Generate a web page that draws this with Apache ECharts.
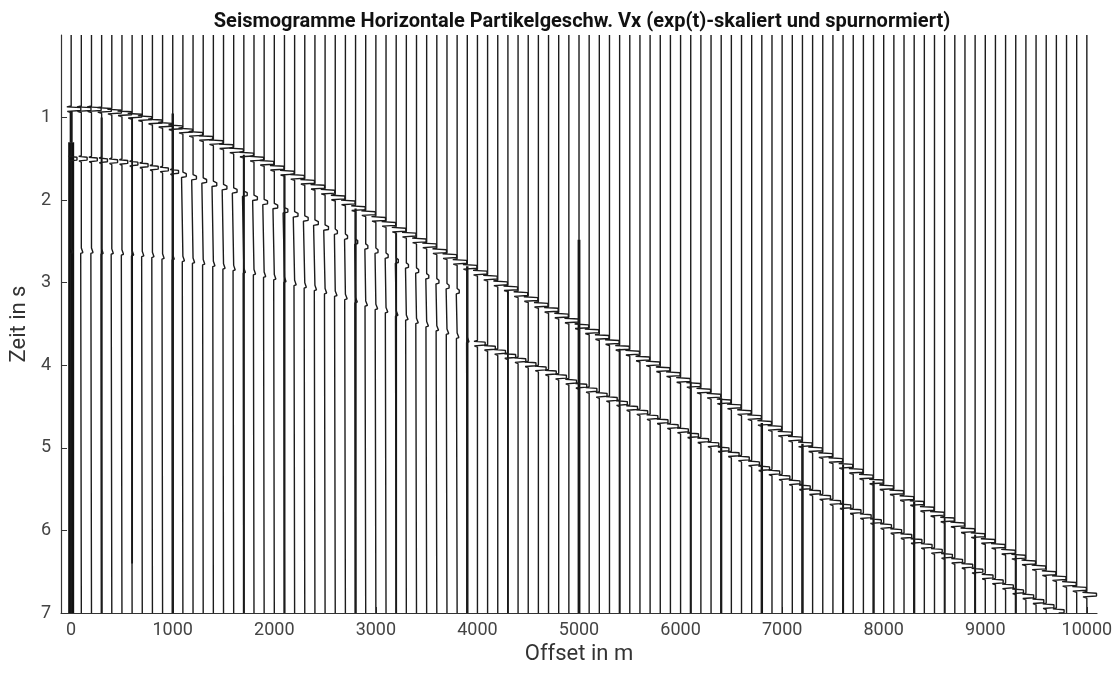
<!DOCTYPE html>
<html>
<head>
<meta charset="utf-8">
<title>Seismogramme Vx</title>
<script src="https://cdn.jsdelivr.net/npm/echarts@6/dist/echarts.min.js"></script>
<style>
  html, body { margin: 0; padding: 0; background: #fff; }
  #chart { width: 1120px; height: 673px; }
</style>
</head>
<body>
<div id="chart"></div>
<script>
// Receiver offsets (m), one trace each
const OFFSETS = [
  0, 100, 200, 300, 400, 500, 600, 700, 800, 900,
  1000, 1100, 1200, 1300, 1400, 1500, 1600, 1700, 1800, 1900,
  2000, 2100, 2200, 2300, 2400, 2500, 2600, 2700, 2800, 2900,
  3000, 3100, 3200, 3300, 3400, 3500, 3600, 3700, 3800, 3900,
  4000, 4100, 4200, 4300, 4400, 4500, 4600, 4700, 4800, 4900,
  5000, 5100, 5200, 5300, 5400, 5500, 5600, 5700, 5800, 5900,
  6000, 6100, 6200, 6300, 6400, 6500, 6600, 6700, 6800, 6900,
  7000, 7100, 7200, 7300, 7400, 7500, 7600, 7700, 7800, 7900,
  8000, 8100, 8200, 8300, 8400, 8500, 8600, 8700, 8800, 8900,
  9000, 9100, 9200, 9300, 9400, 9500, 9600, 9700, 9800, 9900,
  10000
];

// Axis tick labels
const X_TICKS = [0, 1000, 2000, 3000, 4000, 5000, 6000, 7000, 8000, 9000, 10000];
const Y_TICKS = [1, 2, 3, 4, 5, 6, 7];

// First (strongest) arrival time per trace (s)
const T_FIRST = [
  0.88, 0.88, 0.88, 0.89, 0.91, 0.93, 0.96, 0.99, 1.03, 1.07,
  1.10, 1.14, 1.18, 1.23, 1.28, 1.33, 1.38, 1.43, 1.48, 1.53,
  1.59, 1.65, 1.70, 1.76, 1.82, 1.88, 1.95, 2.01, 2.08, 2.14,
  2.21, 2.27, 2.34, 2.40, 2.47, 2.53, 2.60, 2.66, 2.73, 2.79,
  2.86, 2.92, 2.99, 3.05, 3.12, 3.18, 3.25, 3.31, 3.38, 3.44,
  3.51, 3.57, 3.64, 3.70, 3.77, 3.83, 3.90, 3.96, 4.03, 4.09,
  4.16, 4.22, 4.29, 4.35, 4.42, 4.48, 4.55, 4.61, 4.68, 4.74,
  4.81, 4.87, 4.94, 5.00, 5.07, 5.13, 5.20, 5.26, 5.33, 5.39,
  5.46, 5.52, 5.59, 5.65, 5.72, 5.78, 5.85, 5.91, 5.98, 6.04,
  6.11, 6.17, 6.24, 6.30, 6.37, 6.43, 6.50, 6.56, 6.63, 6.69,
  6.76
];

// Shallow secondary event (s), visible on the near traces only
const T_SECOND = [
  1.48, 1.48, 1.49, 1.50, 1.51, 1.52, 1.54, 1.56, 1.59, 1.61,
  1.64, 1.68, 1.71, 1.75, 1.79, 1.83, 1.87, 1.91, 1.96, 2.01,
  2.06, 2.11, 2.16, 2.21, 2.26, 2.32, 2.37, 2.43, 2.49, 2.55,
  2.60, 2.66, 2.72, 2.78, 2.84, 2.91, 2.97, 3.03, 3.09
];

// Deeper reflection (s); runs out of the 7 s window after 9700 m
const T_REFLECTION = [
  2.60, 2.60, 2.60, 2.61, 2.61, 2.62, 2.63, 2.64, 2.65, 2.67,
  2.68, 2.70, 2.72, 2.74, 2.76, 2.79, 2.81, 2.84, 2.86, 2.89,
  2.92, 2.95, 2.99, 3.02, 3.05, 3.09, 3.12, 3.16, 3.20, 3.24,
  3.28, 3.32, 3.36, 3.41, 3.45, 3.49, 3.54, 3.58, 3.63, 3.68,
  3.72, 3.77, 3.82, 3.87, 3.92, 3.97, 4.02, 4.07, 4.12, 4.18,
  4.23, 4.28, 4.34, 4.39, 4.44, 4.50, 4.55, 4.61, 4.66, 4.72,
  4.77, 4.83, 4.89, 4.94, 5.00, 5.06, 5.11, 5.17, 5.23, 5.28,
  5.34, 5.40, 5.46, 5.52, 5.58, 5.64, 5.69, 5.75, 5.81, 5.87,
  5.93, 5.99, 6.05, 6.11, 6.17, 6.23, 6.29, 6.35, 6.41, 6.47,
  6.54, 6.60, 6.66, 6.72, 6.78, 6.84, 6.90, 6.96
];

// Relative event amplitudes per offset range: [from m, to m, amplitude]
const AMP_FIRST = [[0, 10000, 1.0]];
const AMP_SECOND = [[0, 1000, 0.6], [1100, 2500, 0.35], [2600, 3800, 0.22]];
const AMP_REFLECTION = [[0, 2500, 0.16], [2600, 3900, 0.18], [4000, 10000, 0.8]];

// Noisy traces drawn heavier: [offset m, from s, to s, line width px]
const NOISY_TRACES = [
  [0, 1.30, 7.00, 6], [0, 0.92, 1.30, 3],
  [300, 1.00, 7.00, 2], [600, 1.00, 6.40, 1.8],
  [1000, 0.95, 7.00, 2.4], [1700, 1.45, 7.00, 2],
  [2100, 1.70, 7.00, 2], [2800, 2.10, 7.00, 2.2],
  [3200, 2.40, 7.00, 1.8], [3900, 2.80, 7.00, 2.4],
  [4300, 3.10, 7.00, 1.8], [5000, 2.48, 7.00, 2.8],
  [5400, 3.80, 7.00, 1.8], [6100, 4.20, 7.00, 2],
  [6400, 4.40, 7.00, 2.2], [6800, 4.70, 7.00, 2.4],
  [7200, 4.95, 7.00, 2.4], [7600, 5.20, 7.00, 2],
  [7900, 5.40, 7.00, 2.2], [8300, 5.65, 7.00, 2.2],
  [8600, 5.85, 7.00, 1.8], [8900, 6.05, 7.00, 2],
  [9300, 6.30, 7.00, 2]
];

const T_MAX = 7;
const WIGGLE_SCALE = 95; // metres of horizontal excursion for amplitude 1
// Wavelet knots: [time relative to arrival (s), relative amplitude]
const WAVELET = [[-0.02, 0], [-0.01, -0.45], [0, 1], [0.035, 1], [0.045, -0.4], [0.06, 0]];

function waveletAt(dt) {
  if (dt <= WAVELET[0][0] || dt >= WAVELET[WAVELET.length - 1][0]) return 0;
  for (let k = 1; k < WAVELET.length; k++) {
    const [t1, a1] = WAVELET[k];
    const [t0, a0] = WAVELET[k - 1];
    if (dt <= t1) return a0 + (a1 - a0) * (dt - t0) / (t1 - t0);
  }
  return 0;
}

function ampFor(table, offset) {
  for (const [a, b, v] of table) if (offset >= a && offset <= b) return v;
  return 0;
}

// One wiggle trace: vertical line at the offset, deflected by each event's wavelet
function traceData(i) {
  const off = OFFSETS[i];
  const events = [];
  const add = (arr, ampTable) => {
    const t = arr[i];
    if (t == null || t > T_MAX) return;
    const a = ampFor(ampTable, off);
    if (a > 0) events.push([t, a]);
  };
  add(T_FIRST, AMP_FIRST);
  add(T_SECOND, AMP_SECOND);
  add(T_REFLECTION, AMP_REFLECTION);

  const times = new Set([0, T_MAX]);
  events.forEach(([t0]) => WAVELET.forEach(([dt]) => {
    const t = t0 + dt;
    if (t > 0 && t < T_MAX) times.add(Math.round(t * 10000) / 10000);
  }));
  return [...times].sort((a, b) => a - b).map(t => {
    let s = 0;
    events.forEach(([t0, a]) => { s += a * waveletAt(t - t0); });
    return [off + WIGGLE_SCALE * s, t];
  });
}

const series = [];
NOISY_TRACES.forEach(([off, t0, t1, w]) => {
  series.push({
    type: 'line', silent: true, showSymbol: false, animation: false, z: 1,
    data: [[off, t0], [off, t1]],
    lineStyle: { color: '#111', width: w }
  });
});
OFFSETS.forEach((_, i) => {
  series.push({
    type: 'line', silent: true, showSymbol: false, animation: false, z: 2,
    data: traceData(i),
    lineStyle: { color: '#1c1c1c', width: 1.4 }
  });
});

const plain = v => String(v);

const chart = echarts.init(document.getElementById('chart'), null, { renderer: 'canvas' });
chart.setOption({
  backgroundColor: '#fff',
  animation: false,
  title: {
    text: 'Seismogramme Horizontale Partikelgeschw. Vx (exp(t)-skaliert und spurnormiert)',
    left: 577, top: 7, textAlign: 'center',
    textStyle: { fontFamily: 'Roboto', fontWeight: 'bold', fontSize: 20, color: '#111' }
  },
  grid: { left: 58, right: 23, top: 35, bottom: 60, containLabel: false },
  xAxis: {
    type: 'value', min: -100, max: 10100,
    name: 'Offset in m', nameLocation: 'middle', nameGap: 25,
    nameTextStyle: { fontFamily: 'Roboto', fontSize: 22, color: '#333' },
    axisLine: { show: true, onZero: false, lineStyle: { color: '#333', width: 1.2 } },
    axisTick: { show: true, inside: true, length: 6, customValues: X_TICKS, lineStyle: { color: '#333' } },
    axisLabel: { customValues: X_TICKS, formatter: plain, fontFamily: 'Roboto', fontSize: 18, color: '#444', margin: 8 },
    splitLine: { show: false }
  },
  yAxis: {
    type: 'value', min: 0, max: T_MAX, inverse: true,
    name: 'Zeit in s', nameLocation: 'middle', nameGap: 23, nameRotate: 90,
    nameTextStyle: { fontFamily: 'Roboto', fontSize: 22, color: '#333' },
    axisLine: { show: true, onZero: false, lineStyle: { color: '#333', width: 1.2 } },
    axisTick: { show: true, inside: true, length: 6, customValues: Y_TICKS, lineStyle: { color: '#333' } },
    axisLabel: { customValues: Y_TICKS, formatter: plain, fontFamily: 'Roboto', fontSize: 18, color: '#444', margin: 10 },
    splitLine: { show: false }
  },
  series: series
});
</script>
</body>
</html>
